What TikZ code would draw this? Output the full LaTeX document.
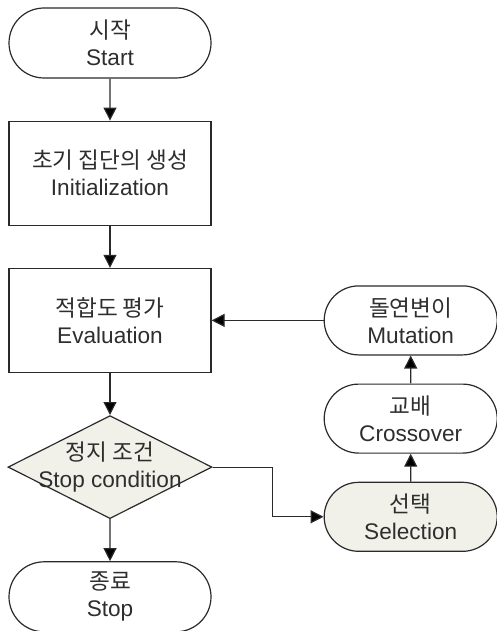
\documentclass[tikz,border=0pt]{standalone}
\usepackage{fontspec}
\setmainfont{Liberation Sans}
\newfontfamily\kor{Noto Sans CJK KR}
\usepackage{xcolor}
\usetikzlibrary{shapes.geometric, shapes.misc, arrows.meta, positioning}
\definecolor{linegray}{HTML}{2A2A2A}
\definecolor{textgray}{HTML}{2E2E2E}
\definecolor{paleshade}{HTML}{F1F1EA}

\begin{document}
\begin{tikzpicture}[
    x=0.5pt, y=-0.5pt,
    node distance=21pt,
    >={Triangle[width=6.5pt, length=6.5pt, fill=black]},
    terminal/.style={rounded rectangle, draw=linegray, line width=0.6pt, minimum width=101pt, minimum height=35pt, inner sep=0pt, align=center, text=textgray, font=\fontsize{11.3}{13.5}\selectfont},
    process/.style={rectangle, draw=linegray, line width=0.6pt, minimum width=101pt, minimum height=52pt, inner sep=0pt, align=center, text=textgray, font=\fontsize{11.3}{13.5}\selectfont},
    decision/.style={diamond, draw=linegray, line width=0.6pt, fill=paleshade, minimum width=102pt, minimum height=51.5pt, inner sep=0pt},
    operator/.style={rounded rectangle, draw=linegray, line width=0.6pt, minimum width=86.5pt, minimum height=34.5pt, inner sep=0pt, align=center, text=textgray, font=\fontsize{11.3}{13.5}\selectfont},
    flow/.style={->, draw=linegray, line width=0.6pt}
]
\useasboundingbox (0,0) rectangle (497,631);

% Main column
\node[terminal] (start) at (110,43) {{\kor 시작}\\Start};
\node[process, below=of start] (init) {{\kor 초기 집단의 생성}\\Initialization};
\node[process, below=of init] (eval) {{\kor 적합도 평가}\\Evaluation};
\node[decision, below=of eval] (cond) {};
\node[align=center, text=textgray, font=\fontsize{11.3}{13.5}\selectfont] (condtext) at (cond) {{\kor 정지 조건}\\Stop condition};
\node[terminal, below=of cond] (stop) {{\kor 종료}\\Stop};

% Genetic operators
\node[operator, right=56pt of eval] (mut) {{\kor 돌연변이}\\Mutation};
\node[operator, below=14pt of mut] (cross) {{\kor 교배}\\Crossover};
\node[operator, fill=paleshade, below=14pt of cross] (sel) {{\kor 선택}\\Selection};

\draw[flow] (start) -- (init);
\draw[flow] (init) -- (eval);
\draw[flow] (eval) -- (cond);
\draw[flow] (cond) -- (stop);
\draw[flow] (cond.east) -- ++(30pt,0) |- (sel.west);
\draw[flow] (sel) -- (cross);
\draw[flow] (cross) -- (mut);
\draw[flow] (mut) -- (eval);

\end{tikzpicture}
\end{document}
